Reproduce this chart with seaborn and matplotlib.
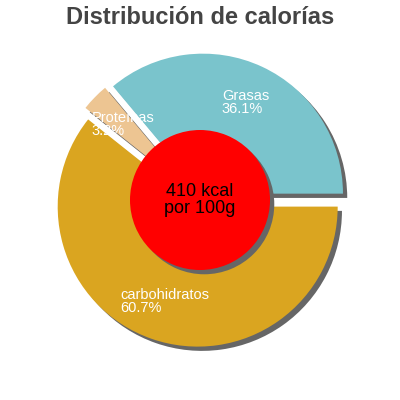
import matplotlib
matplotlib.use("Agg")
import matplotlib.pyplot as plt
import seaborn as sns

# data
categories = ["Grasas", "Proteínas", "carbohidratos"]
percentages = [36.1, 3.2, 60.7]
colors = ["#7AC4CC", "#EDC592", "#DAA520"]
center_value = ["410 kcal", "por 100g"]
title = "Distribución de calorías"

sns.set_theme(style="white")
plt.rcParams["font.family"] = ["Liberation Sans", "DejaVu Sans"]

fig = plt.figure(figsize=(4, 4), dpi=100)
ax = fig.add_axes([0, 0, 1, 1])

labels = [f"{c}\n{p}%" for c, p in zip(categories, percentages)]
shadow = {"ox": 0.022, "oy": -0.022, "facecolor": "#666666",
          "edgecolor": "none", "alpha": 1.0}
wedges, texts = ax.pie(
    percentages, labels=labels, colors=colors, startangle=0,
    explode=[0.05] * len(percentages), radius=1.0, labeldistance=0.72,
    shadow=shadow, wedgeprops={"linewidth": 0},
    textprops={"color": "white", "fontsize": 10.5},
)
for t in texts:
    t.set_ha("center")
    t.set_va("center")
    t.set_multialignment("left")
    t.set_linespacing(0.95)
    t.set_zorder(6)

# center circle
ax.pie([1], colors=["#FF0000"], radius=0.5, startangle=90,
       shadow=shadow, wedgeprops={"linewidth": 0, "zorder": 4})
ax.text(0, 0, "\n".join(center_value), ha="center", va="center",
        fontsize=13, color="black", zorder=7, linespacing=1.0)

ax.set_xlim(-200 / 140, 200 / 140)
ax.set_ylim(-200 / 140, 200 / 140)
ax.set_aspect("equal")
ax.axis("off")

fig.text(0.5, 0.955, title, ha="center", va="center", fontsize=17,
         fontweight="bold", color="#444444")

fig.savefig("out.png", dpi=100)
